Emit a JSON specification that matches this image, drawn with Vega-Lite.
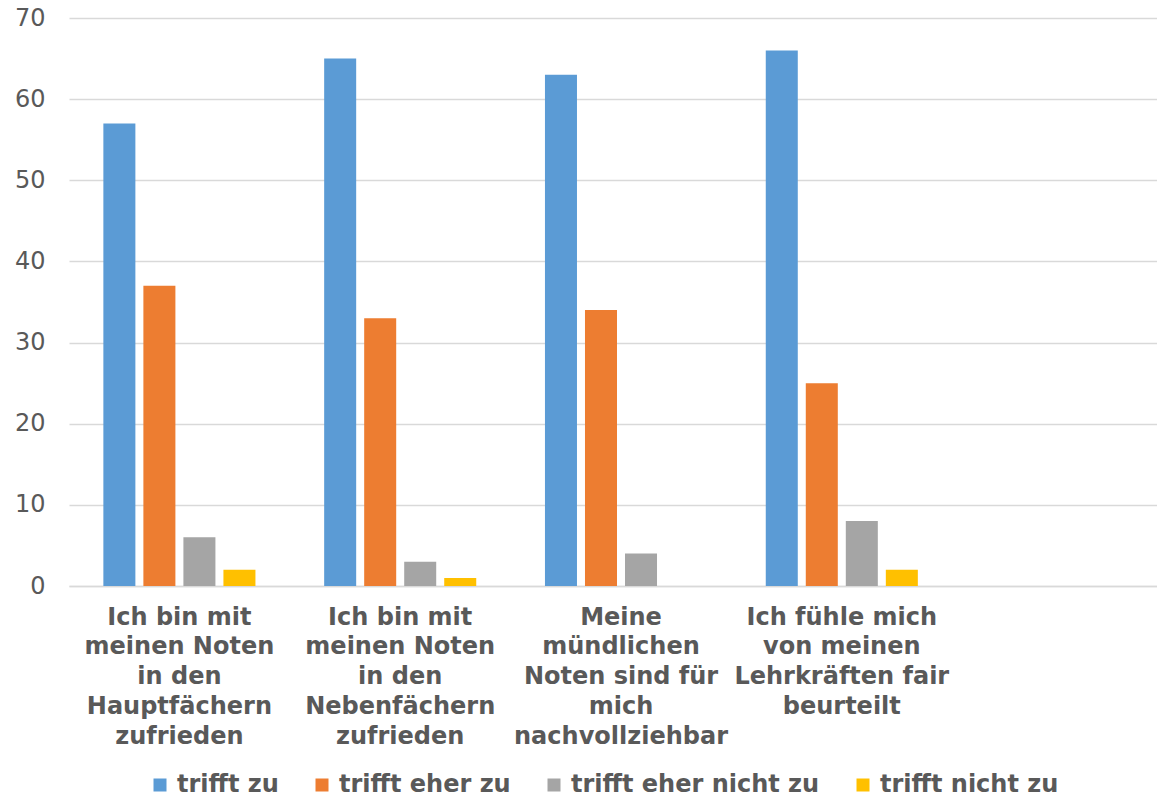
{
  "$schema": "https://vega.github.io/schema/vega-lite/v6.json",
  "width": 1088,
  "height": 568,
  "autosize": {"type": "none"},
  "padding": {"left": 69, "top": 18, "right": 0, "bottom": 213},
  "background": "white",
  "config": {
    "view": {"stroke": null},
    "font": "DejaVu Sans"
  },
  "data": {
    "values": [
      {"q": "Ich bin mit meinen Noten in den Hauptfächern zufrieden", "s": "trifft zu", "v": 57},
      {"q": "Ich bin mit meinen Noten in den Hauptfächern zufrieden", "s": "trifft eher zu", "v": 37},
      {"q": "Ich bin mit meinen Noten in den Hauptfächern zufrieden", "s": "trifft eher nicht zu", "v": 6},
      {"q": "Ich bin mit meinen Noten in den Hauptfächern zufrieden", "s": "trifft nicht zu", "v": 2},
      {"q": "Ich bin mit meinen Noten in den Nebenfächern zufrieden", "s": "trifft zu", "v": 65},
      {"q": "Ich bin mit meinen Noten in den Nebenfächern zufrieden", "s": "trifft eher zu", "v": 33},
      {"q": "Ich bin mit meinen Noten in den Nebenfächern zufrieden", "s": "trifft eher nicht zu", "v": 3},
      {"q": "Ich bin mit meinen Noten in den Nebenfächern zufrieden", "s": "trifft nicht zu", "v": 1},
      {"q": "Meine mündlichen Noten sind für mich nachvollziehbar", "s": "trifft zu", "v": 63},
      {"q": "Meine mündlichen Noten sind für mich nachvollziehbar", "s": "trifft eher zu", "v": 34},
      {"q": "Meine mündlichen Noten sind für mich nachvollziehbar", "s": "trifft eher nicht zu", "v": 4},
      {"q": "Meine mündlichen Noten sind für mich nachvollziehbar", "s": "trifft nicht zu", "v": 0},
      {"q": "Ich fühle mich von meinen Lehrkräften fair beurteilt", "s": "trifft zu", "v": 66},
      {"q": "Ich fühle mich von meinen Lehrkräften fair beurteilt", "s": "trifft eher zu", "v": 25},
      {"q": "Ich fühle mich von meinen Lehrkräften fair beurteilt", "s": "trifft eher nicht zu", "v": 8},
      {"q": "Ich fühle mich von meinen Lehrkräften fair beurteilt", "s": "trifft nicht zu", "v": 2}
    ]
  },
  "mark": {"type": "bar"},
  "encoding": {
    "x": {
      "field": "q",
      "type": "nominal",
      "sort": null,
      "title": null,
      "scale": {
        "domain": [
          "Ich bin mit meinen Noten in den Hauptfächern zufrieden",
          "Ich bin mit meinen Noten in den Nebenfächern zufrieden",
          "Meine mündlichen Noten sind für mich nachvollziehbar",
          "Ich fühle mich von meinen Lehrkräften fair beurteilt",
          "(leer)"
        ],
        "range": [0, 1104],
        "paddingInner": 0.275,
        "paddingOuter": 0.1375
      },
      "axis": {
        "labelExpr": "{'Ich bin mit meinen Noten in den Hauptfächern zufrieden': ['Ich bin mit','meinen Noten','in den','Hauptfächern','zufrieden'], 'Ich bin mit meinen Noten in den Nebenfächern zufrieden': ['Ich bin mit','meinen Noten','in den','Nebenfächern','zufrieden'], 'Meine mündlichen Noten sind für mich nachvollziehbar': ['Meine','mündlichen','Noten sind für','mich','nachvollziehbar'], 'Ich fühle mich von meinen Lehrkräften fair beurteilt': ['Ich fühle mich','von meinen','Lehrkräften fair','beurteilt']}[datum.value] || ''",
        "labelAngle": 0,
        "labelFontSize": 24,
        "labelFontWeight": "bold",
        "labelColor": "#595959",
        "labelLineHeight": 29.8,
        "labelBaseline": "top",
        "labelPadding": 19,
        "labelLimit": 0,
        "ticks": false,
        "domainColor": "#d9d9d9",
        "domainWidth": 1.5,
        "grid": false
      }
    },
    "xOffset": {
      "field": "s",
      "type": "nominal",
      "sort": ["trifft zu", "trifft eher zu", "trifft eher nicht zu", "trifft nicht zu"],
      "scale": {"paddingInner": 0.2, "paddingOuter": 0.1}
    },
    "y": {
      "field": "v",
      "type": "quantitative",
      "title": null,
      "scale": {"domain": [0, 70], "nice": false},
      "axis": {
        "values": [0, 10, 20, 30, 40, 50, 60, 70],
        "labelFontSize": 24,
        "labelColor": "#595959",
        "labelPadding": 24,
        "ticks": false,
        "domain": false,
        "gridColor": "#d9d9d9",
        "gridWidth": 1.5
      }
    },
    "color": {
      "field": "s",
      "type": "nominal",
      "sort": ["trifft zu", "trifft eher zu", "trifft eher nicht zu", "trifft nicht zu"],
      "scale": {
        "domain": ["trifft zu", "trifft eher zu", "trifft eher nicht zu", "trifft nicht zu"],
        "range": ["#5B9BD5", "#ED7D31", "#A5A5A5", "#FFC000"]
      },
      "legend": {
        "title": null,
        "orient": "none",
        "legendX": 79,
        "legendY": 755,
        "direction": "horizontal",
        "symbolType": "square",
        "symbolSize": 169,
        "symbolStrokeWidth": 0,
        "labelFontSize": 24,
        "labelFontWeight": "bold",
        "labelColor": "#595959",
        "labelOffset": 5,
        "columnPadding": 31,
        "labelLimit": 0
      }
    }
  }
}
